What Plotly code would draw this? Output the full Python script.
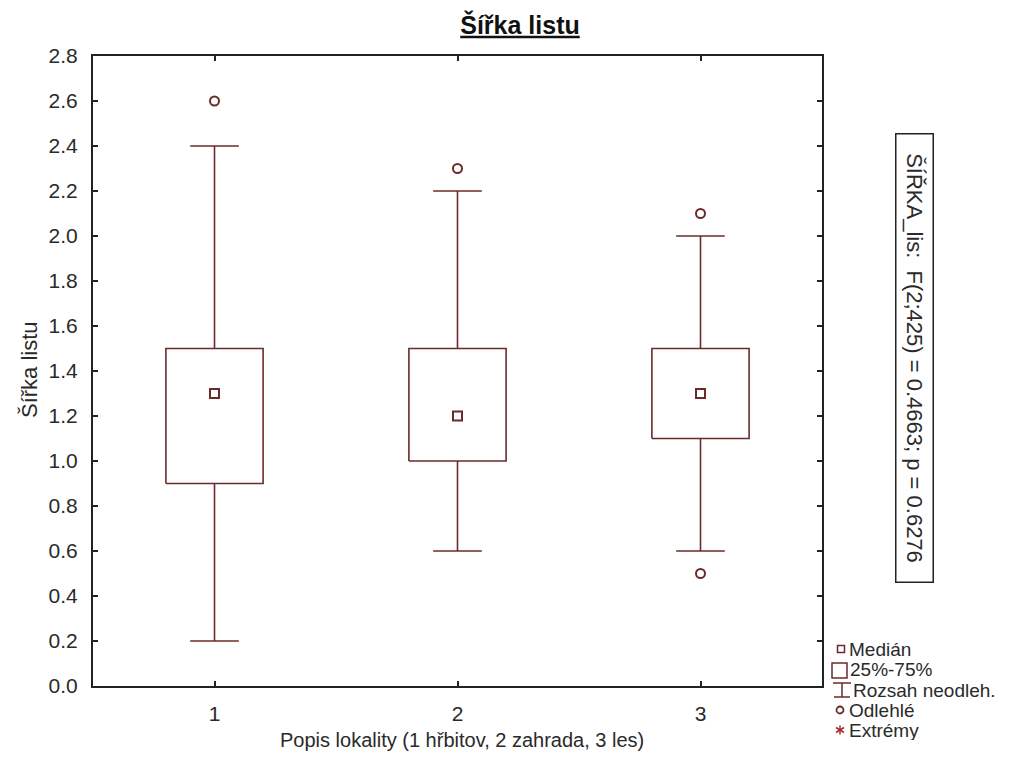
import plotly.graph_objects as go

# Summary statistics of leaf width per locality
groups = [1, 2, 3]
q1 = [0.9, 1.0, 1.1]
q3 = [1.5, 1.5, 1.5]
medians = [1.3, 1.2, 1.3]
whisker_low = [0.2, 0.6, 0.6]
whisker_high = [2.4, 2.2, 2.0]
outlier_x = [1, 2, 3, 3]
outlier_y = [2.6, 2.3, 2.1, 0.5]
y_ticks = [0.0, 0.2, 0.4, 0.6, 0.8, 1.0, 1.2, 1.4, 1.6, 1.8, 2.0, 2.2, 2.4, 2.6, 2.8]
legend_labels = ["Medián", "25%-75%", "Rozsah neodleh.", "Odlehlé", "Extrémy"]
stat_text = "ŠÍŘKA_lis:&nbsp;&nbsp;F(2;425) = 0.4663; p = 0.6276"

W, H = 1019, 760
ML, MR, MT, MB = 93, 197, 56, 74
PW, PH = W - ML - MR, H - MT - MB

BOX_COLOR = "#6b2b2b"
TEXT_COLOR = "#2a2a2a"
FONT = "Liberation Sans, Arial, sans-serif"
BOX_HALF = 0.2
CAP_HALF = 0.1


def px_x(px):
    return (px - ML) / PW


def px_y(py):
    return (MT + PH - py) / PH


# Box outlines
bx, by = [], []
for g, lo, hi in zip(groups, q1, q3):
    bx += [g - BOX_HALF, g + BOX_HALF, g + BOX_HALF, g - BOX_HALF, g - BOX_HALF, None]
    by += [lo, lo, hi, hi, lo, None]

# Whiskers with caps
wx, wy = [], []
for g, lo, hi, wl, wh in zip(groups, q1, q3, whisker_low, whisker_high):
    wx += [g, g, None, g - CAP_HALF, g + CAP_HALF, None]
    wy += [hi, wh, None, wh, wh, None]
    wx += [g, g, None, g - CAP_HALF, g + CAP_HALF, None]
    wy += [lo, wl, None, wl, wl, None]

fig = go.Figure()
fig.add_trace(go.Scatter(x=bx, y=by, mode="lines",
                         line=dict(color=BOX_COLOR, width=1.6),
                         hoverinfo="skip", showlegend=False))
fig.add_trace(go.Scatter(x=wx, y=wy, mode="lines",
                         line=dict(color=BOX_COLOR, width=1.6),
                         hoverinfo="skip", showlegend=False))
fig.add_trace(go.Scatter(x=groups, y=medians, mode="markers",
                         marker=dict(symbol="square-open", size=9, color=BOX_COLOR,
                                     line=dict(width=2, color=BOX_COLOR)),
                         showlegend=False))
fig.add_trace(go.Scatter(x=outlier_x, y=outlier_y, mode="markers",
                         marker=dict(symbol="circle-open", size=9, color=BOX_COLOR,
                                     line=dict(width=2, color=BOX_COLOR)),
                         showlegend=False))

shapes = []
annotations = []

# Hand-built legend in the lower right corner
legend_rows = [649, 669, 690, 710, 730]
text_x = [848, 849, 852, 848, 848]
for lab, ry, tx in zip(legend_labels, legend_rows, text_x):
    annotations.append(dict(x=px_x(tx), y=px_y(ry), xref="paper", yref="paper",
                            text=lab, showarrow=False, xanchor="left", yanchor="middle",
                            height=20, borderpad=0, valign="middle",
                            font=dict(family=FONT, size=19, color=TEXT_COLOR)))
lc = BOX_COLOR
# median glyph
shapes.append(dict(type="rect", xref="paper", yref="paper",
                   x0=px_x(837.5), x1=px_x(844.5), y0=px_y(645.5), y1=px_y(652.5),
                   line=dict(color=lc, width=1.5)))
# box glyph
shapes.append(dict(type="rect", xref="paper", yref="paper",
                   x0=px_x(832), x1=px_x(847), y0=px_y(663), y1=px_y(678),
                   line=dict(color=lc, width=1.5)))
# whisker glyph
for seg in [((842, 683), (842, 697)), ((833, 683), (851, 683)), ((834, 697), (850, 697))]:
    (x0, y0), (x1, y1) = seg
    shapes.append(dict(type="line", xref="paper", yref="paper",
                       x0=px_x(x0), x1=px_x(x1), y0=px_y(y0), y1=px_y(y1),
                       line=dict(color=lc, width=1.5)))
# outlier glyph
shapes.append(dict(type="circle", xref="paper", yref="paper",
                   x0=px_x(836.5), x1=px_x(843.5), y0=px_y(706.5), y1=px_y(713.5),
                   line=dict(color=lc, width=1.8)))
# extreme glyph (asterisk)
star_c = "#a03030"
for seg in [((840, 725.5), (840, 734.5)), ((836, 727.5), (844, 732.5)), ((836, 732.5), (844, 727.5))]:
    (x0, y0), (x1, y1) = seg
    shapes.append(dict(type="line", xref="paper", yref="paper",
                       x0=px_x(x0), x1=px_x(x1), y0=px_y(y0), y1=px_y(y1),
                       line=dict(color=star_c, width=1.5)))

# ANOVA result, rotated in a frame
annotations.append(dict(x=px_x(915), y=px_y(358), xref="paper", yref="paper",
                        text=stat_text, showarrow=False, textangle=90,
                        xanchor="center", yanchor="middle",
                        width=437, height=26, borderpad=5, align="center",
                        bordercolor="#222", borderwidth=1.5,
                        font=dict(family=FONT, size=22, color=TEXT_COLOR)))

# Axis titles
annotations.append(dict(x=px_x(29), y=px_y(370), xref="paper", yref="paper",
                        text="Šířka listu", showarrow=False, textangle=-90,
                        xanchor="center", yanchor="middle",
                        font=dict(family=FONT, size=22, color=TEXT_COLOR)))
annotations.append(dict(x=px_x(462), y=px_y(740), xref="paper", yref="paper",
                        text="Popis lokality (1 hřbitov, 2 zahrada, 3 les)",
                        showarrow=False, xanchor="center", yanchor="middle",
                        font=dict(family=FONT, size=20, color=TEXT_COLOR)))

fig.update_layout(
    width=W, height=H,
    margin=dict(l=ML, r=MR, t=MT, b=MB, pad=0),
    paper_bgcolor="white", plot_bgcolor="white",
    title=dict(text="<b>Šířka listu</b>", x=520 / W, xanchor="center",
               xref="container", yref="container", y=1 - 25 / H, yanchor="middle",
               font=dict(family=FONT, size=25, color="#111", lineposition="under")),
    shapes=shapes, annotations=annotations,
    showlegend=False,
)
fig.update_xaxes(range=[0.5, 3.5], tickvals=groups, ticktext=[str(g) for g in groups],
                 showgrid=False, zeroline=False,
                 showline=True, linecolor="#222", linewidth=2, mirror="ticks",
                 ticks="inside", ticklen=5, tickwidth=1.5, tickcolor="#222",
                 ticklabelstandoff=8,
                 tickfont=dict(family=FONT, size=21, color=TEXT_COLOR))
fig.update_yaxes(range=[0, 2.8], tickvals=y_ticks, ticktext=[f"{v:.1f}" for v in y_ticks],
                 showgrid=False, zeroline=False,
                 showline=True, linecolor="#222", linewidth=2, mirror="ticks",
                 ticks="inside", ticklen=5, tickwidth=1.5, tickcolor="#222",
                 ticklabelstandoff=9,
                 tickfont=dict(family=FONT, size=21, color=TEXT_COLOR))

fig.write_html("out.html")
